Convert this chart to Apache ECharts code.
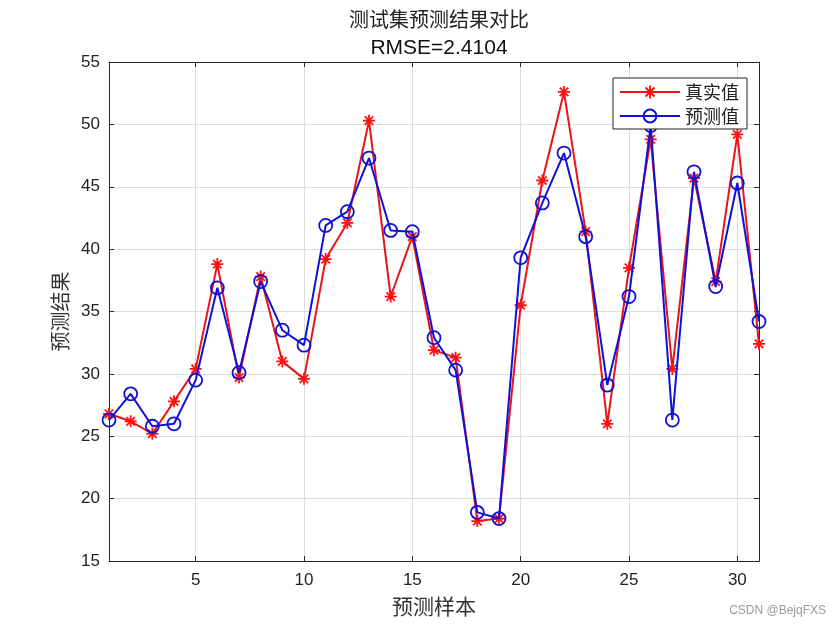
<!DOCTYPE html>
<html><head><meta charset="utf-8">
<script src="https://cdn.jsdelivr.net/npm/echarts@6/dist/echarts.min.js"></script>
<style>html,body{margin:0;padding:0;background:#fff}#c{width:840px;height:630px}</style>
</head><body><div id="c"></div>
<script>
const sampleIdx = Array.from({length: 31}, (_, i) => i + 1);
const realValues = [26.8, 26.2, 25.2, 27.8, 30.4, 38.8, 29.7, 37.8, 31.0, 29.6, 39.2, 42.1, 50.3, 36.2, 41.0, 31.9, 31.3, 18.2, 18.4, 35.5, 45.5, 52.6, 41.4, 26.0, 38.5, 48.8, 30.4, 45.7, 37.4, 49.2, 32.4];
const predValues = [26.3, 28.4, 25.8, 26.0, 29.5, 36.9, 30.1, 37.4, 33.5, 32.3, 41.9, 43.0, 47.3, 41.5, 41.4, 32.9, 30.3, 18.9, 18.4, 39.3, 43.7, 47.7, 41.0, 29.1, 36.2, 49.9, 26.3, 46.2, 37.0, 45.3, 34.2];
const xTicks = [5, 10, 15, 20, 25, 30];
const titleText = '测试集预测结果对比';
const subText = 'RMSE=2.4104';
const seriesNames = ['真实值', '预测值'];

const star = 'path://M0 8.5L20 8.5L20 11.5L0 11.5Z M8.5 0L11.5 0L11.5 20L8.5 20Z M1.9 4.0L4.0 1.9L18.1 16.0L16.0 18.1Z M16.0 1.9L18.1 4.0L4.0 18.1L1.9 16.0Z';
const axisCol = '#262626';
const gridCol = '#dcdcdc';
const cjk = '"Noto Sans CJK SC", sans-serif';
const latin = '"Liberation Sans", Arial, sans-serif';

const chart = echarts.init(document.getElementById('c'));
chart.setOption({
  animation: false,
  backgroundColor: '#fff',
  title: [
    {text: titleText, left: 434, top: 4, textAlign: 'center',
     textStyle: {fontFamily: cjk, fontSize: 20, fontWeight: 'normal', color: '#222'}},
    {text: subText, left: 434, top: 33, textAlign: 'center',
     textStyle: {fontFamily: latin, fontSize: 21, fontWeight: 'normal', color: '#111'}}
  ],
  legend: {
    orient: 'vertical', left: 613, top: 78, width: 130,
    padding: [5, 8, 4, 6], itemGap: 6, itemWidth: 60, itemHeight: 16,
    backgroundColor: '#fff', borderColor: '#222', borderWidth: 1, borderRadius: 0,
    textStyle: {fontFamily: cjk, fontSize: 18, color: '#222'},
    data: seriesNames
  },
  grid: {left: 109, right: 81, top: 62, bottom: 69, containLabel: false},
  xAxis: [
    {type: 'value', min: 1, max: 31, position: 'bottom',
     name: '预测样本', nameLocation: 'middle', nameGap: 35,
     nameTextStyle: {fontFamily: cjk, fontSize: 21, color: '#333'},
     axisLine: {show: true, onZero: false, lineStyle: {color: axisCol, width: 1}},
     axisTick: {show: true, inside: true, length: 5, customValues: xTicks, lineStyle: {color: axisCol}},
     axisLabel: {show: true, customValues: xTicks, margin: 11, fontFamily: latin, fontSize: 17, color: '#222'},
     splitLine: {show: true, lineStyle: {color: gridCol, width: 1}}},
    {type: 'value', min: 1, max: 31, position: 'top',
     axisLine: {show: true, onZero: false, lineStyle: {color: axisCol, width: 1}},
     axisTick: {show: true, inside: true, length: 5, customValues: xTicks, lineStyle: {color: axisCol}},
     axisLabel: {show: false, customValues: xTicks},
     splitLine: {show: false}}
  ],
  yAxis: [
    {type: 'value', min: 15, max: 55, interval: 5, position: 'left',
     name: '预测结果', nameLocation: 'middle', nameGap: 38, nameRotate: 90,
     nameTextStyle: {fontFamily: cjk, fontSize: 20, color: '#333'},
     axisLine: {show: true, onZero: false, lineStyle: {color: axisCol, width: 1}},
     axisTick: {show: true, inside: true, length: 5, lineStyle: {color: axisCol}},
     axisLabel: {margin: 9, fontFamily: latin, fontSize: 17, color: '#222'},
     splitLine: {show: true, lineStyle: {color: gridCol, width: 1}}},
    {type: 'value', min: 15, max: 55, interval: 5, position: 'right',
     axisLine: {show: true, onZero: false, lineStyle: {color: axisCol, width: 1}},
     axisTick: {show: true, inside: true, length: 5, lineStyle: {color: axisCol}},
     axisLabel: {show: false}, splitLine: {show: false}}
  ],
  series: [
    {name: seriesNames[0], type: 'line', xAxisIndex: 0, yAxisIndex: 0,
     data: sampleIdx.map((x, i) => [x, realValues[i]]),
     symbol: star, symbolSize: 12, symbolKeepAspect: true,
     lineStyle: {color: '#e8141a', width: 2},
     itemStyle: {color: '#ff1010', borderWidth: 0},
     z: 2},
    {name: seriesNames[1], type: 'line', xAxisIndex: 0, yAxisIndex: 0,
     data: sampleIdx.map((x, i) => [x, predValues[i]]),
     symbol: 'circle', symbolSize: 13,
     lineStyle: {color: '#1010d8', width: 2},
     itemStyle: {color: 'rgba(0,0,0,0)', borderWidth: 1.8, borderColor: '#1010d8'},
     z: 3}
  ],
  graphic: [
    {type: 'text', right: 14, top: 605,
     style: {text: 'CSDN @BejqFXS', fontFamily: latin, fontSize: 12, fill: '#999'}}
  ]
});
</script></body></html>
